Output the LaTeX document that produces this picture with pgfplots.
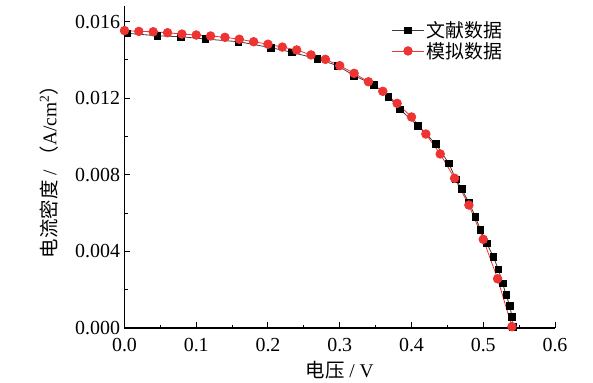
\documentclass[border=0pt]{standalone}
\usepackage{fontspec}
\setmainfont{Liberation Serif}
\newfontfamily\cjk{Noto Sans CJK SC}
\usepackage{pgfplots}
\pgfplotsset{compat=1.18}
\definecolor{myred}{RGB}{238,51,51}
\definecolor{mygray}{RGB}{60,60,60}
\begin{document}
\begin{tikzpicture}
\useasboundingbox (-124.5bp,-55bp) rectangle (468.5bp,328bp);
\begin{axis}[
  at={(0,0)}, anchor=south west,
  scale only axis,
  width=430.5bp, height=321.7bp,
  xmin=0, xmax=0.6, ymin=0, ymax=0.0168,
  axis lines*=left,
  axis line style={line width=1.1bp},
  xtick={0,0.1,...,0.6},
  ytick={0,0.004,0.008,0.012,0.016},
  minor x tick num=1, minor y tick num=1,
  tick align=inside,
  major tick length=6bp, minor tick length=3.5bp,
  every tick/.style={line width=1bp, black},
  scaled y ticks=false, scaled x ticks=false,
  xticklabel style={yshift=-7bp, /pgf/number format/.cd, fixed, fixed zerofill, precision=1, assume math mode=true},
  yticklabel style={xshift=-1bp, /pgf/number format/.cd, fixed, fixed zerofill, precision=3, assume math mode=true},
  tick label style={font=\fontsize{20}{22}\selectfont},
  label style={font=\fontsize{19.5}{22}\selectfont},
  xlabel={{\cjk 电压} / V},
  ylabel={{\cjk 电流密度} / {\cjk （}A/cm\textsuperscript{2}{\cjk ）}},
  xlabel style={yshift=-2bp},
  ylabel style={yshift=10bp},
  legend style={at={(0.612,0.965)}, anchor=north west, draw=none, fill=none,
    font=\fontsize{19}{22}\selectfont, row sep=-1bp,
    legend cell align=left},
  legend image code/.code={\draw[mark repeat=2,mark phase=2] plot coordinates {(0cm,0cm) (0.58cm,0cm) (1.16cm,0cm)};},
]
\addplot[mygray, line width=0.8bp, mark=square*, mark size=3.3bp, mark options={black, solid}] coordinates {
(0.004,0.01539)
(0.046,0.01526)
(0.079,0.01521)
(0.113,0.01509)
(0.159,0.01495)
(0.204,0.01464)
(0.233,0.01440)
(0.269,0.01405)
(0.297,0.01370)
(0.320,0.01318)
(0.348,0.01269)
(0.368,0.01208)
(0.384,0.01142)
(0.409,0.01055)
(0.434,0.00961)
(0.452,0.00860)
(0.462,0.00775)
(0.470,0.00725)
(0.480,0.00655)
(0.489,0.00581)
(0.496,0.00512)
(0.505,0.00442)
(0.514,0.00372)
(0.521,0.00307)
(0.527,0.00233)
(0.532,0.00172)
(0.537,0.00115)
(0.540,0.00059)
(0.541,0.00005)
};
\addlegendentry{{\cjk 文献数据}}
\addplot[myred, line width=0.8bp, mark=*, mark size=4.3bp, mark options={myred, solid}] coordinates {
(0.00,0.01553)
(0.02,0.01549)
(0.04,0.01547)
(0.06,0.01542)
(0.08,0.01535)
(0.10,0.01530)
(0.12,0.01525)
(0.14,0.01518)
(0.16,0.01508)
(0.18,0.01495)
(0.20,0.01482)
(0.22,0.01467)
(0.24,0.01452)
(0.26,0.01426)
(0.28,0.01403)
(0.30,0.01370)
(0.32,0.01330)
(0.34,0.01286)
(0.36,0.01236)
(0.38,0.01173)
(0.40,0.01102)
(0.42,0.01013)
(0.44,0.00909)
(0.46,0.00782)
(0.48,0.00642)
(0.50,0.00463)
(0.52,0.00257)
(0.54,0.00007)
};
\addlegendentry{{\cjk 模拟数据}}
\end{axis}
\end{tikzpicture}
\end{document}
